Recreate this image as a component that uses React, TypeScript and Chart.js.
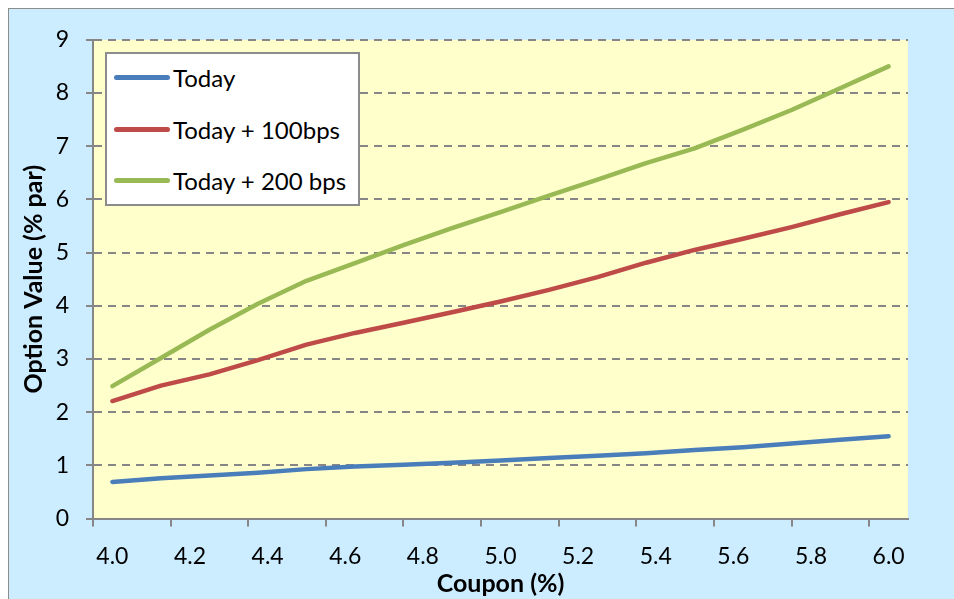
import React, { useEffect, useRef } from "react";
import { Chart, registerables } from "chart.js";

Chart.register(...registerables);

const coupons = [4.0, 4.125, 4.25, 4.375, 4.5, 4.625, 4.75, 4.875, 5.0, 5.125, 5.25, 5.375, 5.5, 5.625, 5.75, 5.875, 6.0];
const today = [0.69, 0.76, 0.81, 0.86, 0.93, 0.98, 1.01, 1.05, 1.09, 1.14, 1.18, 1.23, 1.29, 1.34, 1.41, 1.48, 1.55];
const today100 = [2.21, 2.5, 2.71, 2.98, 3.27, 3.49, 3.68, 3.88, 4.08, 4.3, 4.54, 4.81, 5.05, 5.26, 5.48, 5.72, 5.95];
const today200 = [2.49, 3.02, 3.55, 4.04, 4.47, 4.8, 5.14, 5.46, 5.76, 6.07, 6.37, 6.68, 6.96, 7.31, 7.68, 8.09, 8.5];
const seriesNames = ["Today", "Today + 100bps", "Today + 200 bps"];
const seriesColors = ["#4A7EBB", "#BE4B48", "#98B954"];
const xTickLabels = [4.0, 4.2, 4.4, 4.6, 4.8, 5.0, 5.2, 5.4, 5.6, 5.8, 6.0];
const xTickMarks = [3.95, 4.15, 4.35, 4.55, 4.75, 4.95, 5.15, 5.35, 5.55, 5.75, 5.95];
const yTicks = [0, 1, 2, 3, 4, 5, 6, 7, 8, 9];
const xTitle = "Coupon (%)";
const yTitle = "Option Value (% par)";

const FONT = "Lato";
const GRID = "#868686";

const plotBg = {
  id: "plotBg",
  beforeDraw(chart: any) {
    const { ctx, chartArea } = chart;
    ctx.save();
    ctx.fillStyle = "#FFFFCC";
    ctx.fillRect(chartArea.left, chartArea.top, chartArea.right - chartArea.left, chartArea.bottom - chartArea.top);
    ctx.restore();
  },
};

export default function App() {
  const ref = useRef<HTMLCanvasElement | null>(null);

  useEffect(() => {
    if (!ref.current) return;
    const series = [today, today100, today200];
    const chart = new Chart(ref.current, {
      type: "line",
      data: {
        datasets: series.map((s, i) => ({
          label: seriesNames[i],
          data: coupons.map((c, j) => ({ x: c, y: s[j] })),
          borderColor: seriesColors[i],
          backgroundColor: seriesColors[i],
          borderWidth: 4.5,
          pointRadius: 0,
          tension: 0,
          borderCapStyle: "round",
          borderJoinStyle: "round",
          fill: false,
        })),
      },
      options: {
        animation: false,
        responsive: false,
        events: [],
        layout: { padding: { left: 0, top: 29, right: 46, bottom: 0 } },
        plugins: { legend: { display: false }, tooltip: { enabled: false } },
        scales: {
          xm: {
            type: "linear",
            position: "bottom",
            weight: 0,
            min: 3.95,
            max: 6.05,
            afterBuildTicks: (s: any) => {
              s.ticks = xTickMarks.map((v) => ({ value: v }));
            },
            ticks: { display: false },
            grid: {
              drawOnChartArea: false,
              drawTicks: true,
              tickLength: 8,
              tickWidth: 2,
              tickColor: GRID,
              color: GRID,
              lineWidth: 2,
            },
            border: { display: true, color: GRID, width: 2 },
            afterFit: (s: any) => {
              s.height = 8;
            },
          },
          x: {
            type: "linear",
            position: "bottom",
            weight: 1,
            min: 3.95,
            max: 6.05,
            afterBuildTicks: (s: any) => {
              s.ticks = xTickLabels.map((v) => ({ value: v }));
            },
            ticks: {
              callback: (v: any) => Number(v).toFixed(1),
              font: { family: FONT, size: 23 },
              color: "#000",
              padding: 16,
              maxRotation: 0,
              autoSkip: false,
            },
            grid: { display: false, drawTicks: false },
            border: { display: false },
            title: {
              display: true,
              text: xTitle,
              font: { family: FONT, size: 25, weight: "bold" },
              color: "#000",
              padding: { top: 0, bottom: 0 },
            },
            afterFit: (s: any) => {
              s.height = 72.4;
            },
          },
          y: {
            type: "linear",
            position: "left",
            min: 0,
            max: 9,
            afterBuildTicks: (s: any) => {
              s.ticks = yTicks.map((v) => ({ value: v }));
            },
            ticks: {
              font: { family: FONT, size: 23 },
              color: "#000",
              padding: 17,
            },
            grid: {
              color: GRID,
              lineWidth: 2,
              drawTicks: true,
              tickLength: 7,
              tickWidth: 2,
              tickColor: GRID,
            },
            border: { display: true, color: GRID, width: 2, dash: [8, 6] },
            title: {
              display: true,
              text: yTitle,
              font: { family: FONT, size: 25, weight: "bold" },
              color: "#000",
              padding: { top: 10, bottom: 0 },
            },
            afterFit: (s: any) => {
              s.width = 84;
            },
          },
        },
      } as any,
      plugins: [plotBg],
    });
    return () => chart.destroy();
  }, []);

  return (
    <div
      style={{
        position: "fixed",
        left: 8,
        top: 8,
        width: 946,
        height: 591,
        boxSizing: "border-box",
        background: "#CCECFF",
        borderLeft: "1px solid #8c8c8c",
        borderTop: "1px solid #8c8c8c",
        overflow: "hidden",
      }}
    >
      <canvas ref={ref} width={945} height={590} style={{ display: "block" }} />
      <div
        style={{
          position: "absolute",
          left: 96,
          top: 43,
          width: 255,
          height: 154,
          boxSizing: "border-box",
          background: "#fff",
          border: "2px solid #8c8c8c",
          fontFamily: FONT,
          fontSize: 24,
          color: "#000",
        }}
      >
        {seriesNames.map((n, i) => (
          <div
            key={n}
            style={{
              position: "absolute",
              left: 7,
              top: 23.3 + i * 51.8 - 15,
              height: 30,
              display: "flex",
              alignItems: "center",
              whiteSpace: "nowrap",
            }}
          >
            <span
              style={{
                display: "inline-block",
                width: 56,
                height: 5,
                borderRadius: 3,
                background: seriesColors[i],
                marginRight: 3,
              }}
            />
            <span>{n}</span>
          </div>
        ))}
      </div>
    </div>
  );
}
